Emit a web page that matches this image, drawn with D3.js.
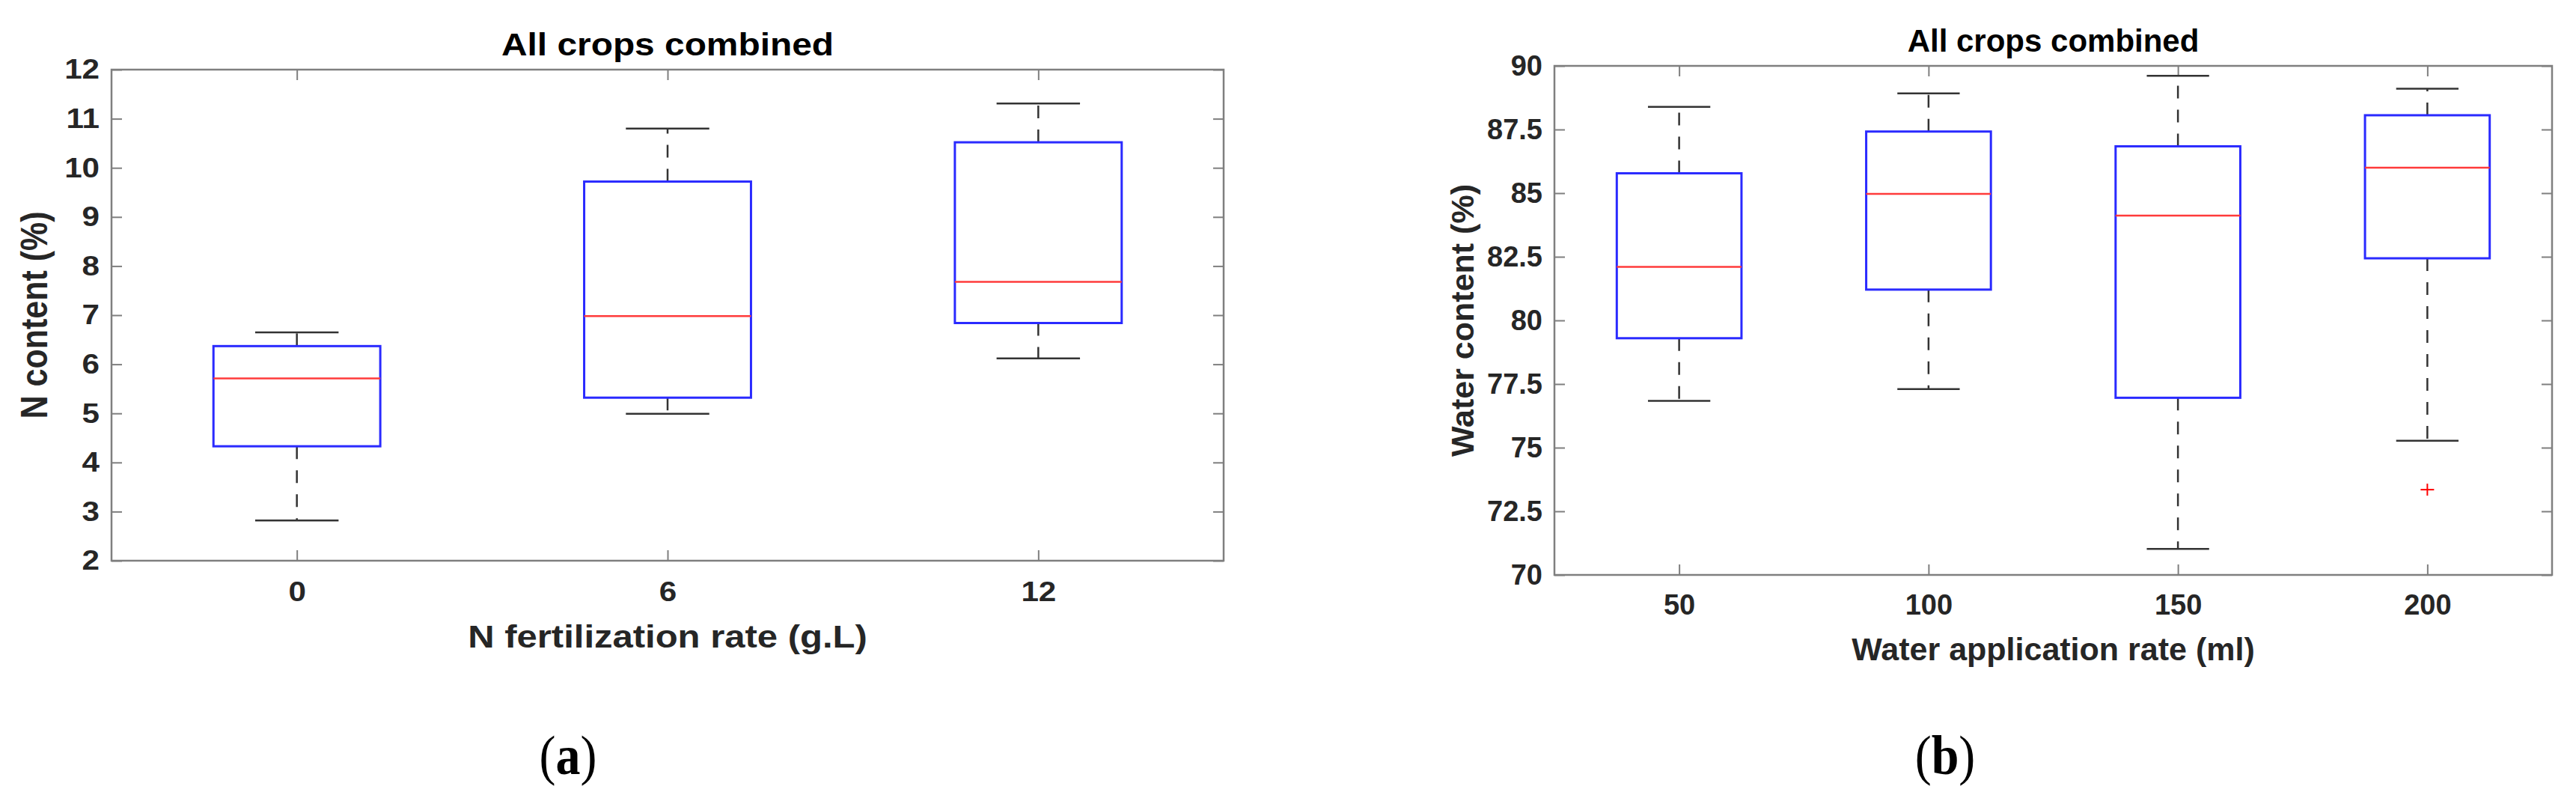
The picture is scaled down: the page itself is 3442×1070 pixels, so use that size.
<!DOCTYPE html>
<html><head><meta charset="utf-8">
<script src="https://cdn.jsdelivr.net/npm/d3@7"></script>
<style>
body{margin:0;background:#fff}
svg text{font-family:"Liberation Sans",Arial,Helvetica,sans-serif}
</style>
</head><body>
<svg id="chart" width="3442" height="1070"></svg>
<script>
// ---- Panel (a): N content by N fertilization rate ----
const nCategories = ["0", "6", "12"];
const nMin    = [2.82, 4.99, 6.12];
const nQ1     = [4.33, 5.32, 6.84];
const nMedian = [5.71, 6.98, 7.68];
const nQ3     = [6.37, 9.72, 10.52];
const nMax    = [6.65, 10.80, 11.31];
const nOutlierCategory = [];
const nOutlierValue = [];
const nTicks = [2, 3, 4, 5, 6, 7, 8, 9, 10, 11, 12];

// ---- Panel (b): Water content by water application rate ----
const wCategories = ["50", "100", "150", "200"];
const wMin    = [76.84, 77.30, 71.02, 75.27];
const wQ1     = [79.30, 81.21, 76.96, 82.44];
const wMedian = [82.10, 84.97, 84.12, 86.00];
const wQ3     = [85.78, 87.42, 86.84, 88.06];
const wMax    = [88.39, 88.92, 89.61, 89.10];
const wOutlierCategory = ["200"];
const wOutlierValue = [73.35];
const wTicks = [70, 72.5, 75, 77.5, 80, 82.5, 85, 87.5, 90];

const titles = ["All crops combined", "All crops combined"];
const xTitles = ["N fertilization rate (g.L)", "Water application rate (ml)"];
const yTitles = ["N content (%)", "Water content (%)"];
const captions = ["a", "b"];

const panels = [
  {cats:nCategories, mins:nMin, q1:nQ1, med:nMedian, q3:nQ3, maxs:nMax,
   outCat:nOutlierCategory, outVal:nOutlierValue, ticks:nTicks,
   title:titles[0], xTitle:xTitles[0], yTitle:yTitles[0], caption:captions[0],
   L:149, R:1635, T:93, B:749, sx:1.14, boxFrac:0.45, tickFont:37, xPad:28, yPad:14,
   titleY:74, xTitleY:865, yTitleX:63, yTitleY:421, capX:759},
  {cats:wCategories, mins:wMin, q1:wQ1, med:wMedian, q3:wQ3, maxs:wMax,
   outCat:wOutlierCategory, outVal:wOutlierValue, ticks:wTicks,
   title:titles[1], xTitle:xTitles[1], yTitle:yTitles[1], caption:captions[1],
   L:2077, R:3410, T:88, B:768, sx:1.0, boxFrac:0.5, tickFont:38, xPad:26, yPad:16,
   titleY:69, xTitleY:882, yTitleX:1969, yTitleY:428, capX:2599}
];

const svg = d3.select("#chart");
const axisCol = "#7f7f7f", textCol = "#262626";

panels.forEach(p => {
  const g = svg.append("g");
  const x = d3.scalePoint().domain(p.cats).range([p.L, p.R]).padding(0.5);
  const y = d3.scaleLinear().domain(d3.extent(p.ticks)).range([p.B, p.T]);
  const bw = x.step() * p.boxFrac;
  const fmt = d => Number.isInteger(d) ? String(d) : d.toFixed(1);

  // frame
  g.append("rect").attr("x", p.L).attr("y", p.T).attr("width", p.R - p.L).attr("height", p.B - p.T)
    .attr("fill", "none").attr("stroke", axisCol).attr("stroke-width", 2.5);

  const styleAxis = (sel, showText, isY) => {
    sel.select(".domain").remove();
    sel.selectAll(".tick line").attr("stroke", axisCol).attr("stroke-width", 2);
    if (!showText) sel.selectAll(".tick text").remove();
    else sel.selectAll(".tick text")
      .attr("font-size", p.tickFont).attr("font-weight", "bold").attr("fill", textCol)
      .attr("transform", `scale(${p.sx},1)`);
  };

  g.append("g").attr("transform", `translate(0,${p.B})`)
    .call(d3.axisBottom(x).tickSizeInner(-14).tickSizeOuter(0).tickPadding(p.xPad))
    .call(s => styleAxis(s, true));
  g.append("g").attr("transform", `translate(0,${p.T})`)
    .call(d3.axisTop(x).tickSizeInner(-14).tickSizeOuter(0).tickFormat(""))
    .call(s => styleAxis(s, false));
  g.append("g").attr("transform", `translate(${p.L},0)`)
    .call(d3.axisLeft(y).tickValues(p.ticks).tickSizeInner(-14).tickSizeOuter(0).tickPadding(p.yPad).tickFormat(fmt))
    .call(s => styleAxis(s, true, true));
  g.append("g").attr("transform", `translate(${p.R},0)`)
    .call(d3.axisRight(y).tickValues(p.ticks).tickSizeInner(-14).tickSizeOuter(0).tickFormat(""))
    .call(s => styleAxis(s, false));

  const data = p.cats.map((c, i) => ({c, min:p.mins[i], q1:p.q1[i], med:p.med[i], q3:p.q3[i], max:p.maxs[i]}));
  const bx = g.selectAll("g.box").data(data).join("g").attr("class", "box");

  // whiskers (dashed)
  bx.append("line").attr("x1", d => x(d.c)).attr("x2", d => x(d.c))
    .attr("y1", d => y(d.q3)).attr("y2", d => y(d.max))
    .attr("stroke", "#333").attr("stroke-width", 2.5).attr("stroke-dasharray", "17,15");
  bx.append("line").attr("x1", d => x(d.c)).attr("x2", d => x(d.c))
    .attr("y1", d => y(d.q1)).attr("y2", d => y(d.min))
    .attr("stroke", "#333").attr("stroke-width", 2.5).attr("stroke-dasharray", "17,15");
  // caps
  ["max", "min"].forEach(k => {
    bx.append("line").attr("x1", d => x(d.c) - bw / 4).attr("x2", d => x(d.c) + bw / 4)
      .attr("y1", d => y(d[k])).attr("y2", d => y(d[k]))
      .attr("stroke", "#333").attr("stroke-width", 2.5);
  });
  // box
  bx.append("rect").attr("x", d => x(d.c) - bw / 2).attr("width", bw)
    .attr("y", d => y(d.q3)).attr("height", d => y(d.q1) - y(d.q3))
    .attr("fill", "none").attr("stroke", "#2a2aff").attr("stroke-width", 3);
  // median
  bx.append("line").attr("x1", d => x(d.c) - bw / 2).attr("x2", d => x(d.c) + bw / 2)
    .attr("y1", d => y(d.med)).attr("y2", d => y(d.med))
    .attr("stroke", "#ff3b3b").attr("stroke-width", 2.5);

  // outliers
  const outs = p.outCat.map((c, i) => ({c, v:p.outVal[i]}));
  const og = g.selectAll("g.out").data(outs).join("g").attr("class", "out")
    .attr("transform", d => `translate(${x(d.c)},${y(d.v)})`);
  og.append("line").attr("x1", -9).attr("x2", 9).attr("y1", 0).attr("y2", 0).attr("stroke", "#ff0000").attr("stroke-width", 2);
  og.append("line").attr("x1", 0).attr("x2", 0).attr("y1", -8).attr("y2", 8).attr("stroke", "#ff0000").attr("stroke-width", 2);

  const cx = (p.L + p.R) / 2;
  // title
  g.append("text").attr("transform", `translate(${cx},${p.titleY}) scale(${p.sx},1)`)
    .attr("text-anchor", "middle").attr("font-size", 42).attr("font-weight", "bold").attr("fill", "#000")
    .text(p.title);
  // x title
  g.append("text").attr("transform", `translate(${cx},${p.xTitleY}) scale(${p.sx},1)`)
    .attr("text-anchor", "middle").attr("font-size", 43).attr("font-weight", "bold").attr("fill", textCol)
    .text(p.xTitle);
  // y title
  g.append("text").attr("transform", `translate(${p.yTitleX},${p.yTitleY}) scale(${p.sx},1) rotate(-90)`)
    .attr("text-anchor", "middle").attr("font-size", 43).attr("font-weight", "bold").attr("fill", textCol)
    .text(p.yTitle);
  // caption
  const cap = svg.append("text").attr("transform", `translate(${p.capX},1034) scale(1,1.12)`)
    .attr("text-anchor", "middle").attr("font-size", 66).attr("fill", "#000")
    .style("font-family", "'Liberation Serif','Times New Roman',serif");
  cap.append("tspan").text("(");
  cap.append("tspan").attr("font-weight", "bold").text(p.caption);
  cap.append("tspan").text(")");
});
</script>
</body></html>
